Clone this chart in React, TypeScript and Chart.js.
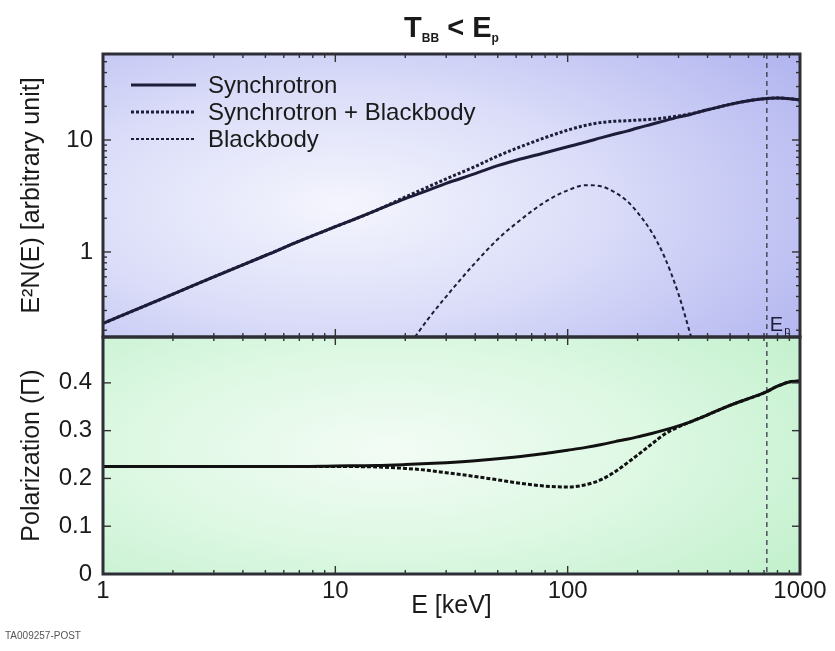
import React, { useEffect, useRef } from "react";
import { Chart, registerables } from "chart.js";

Chart.register(...registerables);

// Photon energy grid (keV)
const energy = [1, 2, 3, 5, 7, 10, 15, 20, 25, 30, 40, 50, 60, 80, 100, 120, 140, 160, 180, 200, 230, 260, 300, 340, 400, 500, 600, 700, 800, 900, 1000];

// E^2 N(E) in arbitrary units
const synchrotronSpectrum = [0.23, 0.42, 0.6, 0.93, 1.25, 1.68, 2.35, 3.0, 3.55, 4.1, 5.0, 5.9, 6.6, 7.7, 8.7, 9.6, 10.5, 11.3, 12.0, 12.8, 13.8, 14.8, 16.0, 17.0, 18.6, 20.8, 22.4, 23.4, 23.7, 23.4, 22.7];
const combinedSpectrum = [0.23, 0.42, 0.6, 0.93, 1.25, 1.68, 2.35, 3.1, 3.8, 4.5, 5.8, 7.2, 8.4, 10.5, 12.25, 13.55, 14.35, 14.7, 14.85, 15.05, 15.3, 15.72, 16.42, 17.17, 18.6, 20.8, 22.4, 23.4, 23.7, 23.4, 22.7];

const blackbodyEnergy = [22, 25, 30, 40, 50, 60, 80, 100, 120, 140, 160, 180, 200, 230, 260, 300, 340];
const blackbodySpectrum = [0.174, 0.25, 0.4, 0.8, 1.3, 1.8, 2.8, 3.55, 3.95, 3.85, 3.4, 2.85, 2.25, 1.5, 0.92, 0.42, 0.174];

// Polarization degree
const synchrotronPolarization = [0.225, 0.225, 0.225, 0.225, 0.225, 0.226, 0.227, 0.229, 0.231, 0.233, 0.237, 0.241, 0.245, 0.252, 0.259, 0.265, 0.271, 0.277, 0.282, 0.287, 0.294, 0.301, 0.31, 0.319, 0.333, 0.353, 0.367, 0.379, 0.393, 0.402, 0.404];
const combinedPolarization = [0.225, 0.225, 0.225, 0.225, 0.225, 0.225, 0.224, 0.221, 0.217, 0.212, 0.204, 0.197, 0.191, 0.184, 0.182, 0.187, 0.198, 0.214, 0.232, 0.249, 0.272, 0.292, 0.308, 0.319, 0.333, 0.353, 0.367, 0.379, 0.393, 0.402, 0.404];

const xTicks = [1, 10, 100, 1000];
const spectrumTicks = [1, 10];
const polarizationTicks = [0, 0.1, 0.2, 0.3, 0.4];
const peakEnergy = 720;

const legendItems = ["Synchrotron", "Synchrotron + Blackbody", "Blackbody"];

const FONT = "'Liberation Sans', Arial, sans-serif";
const NAVY = "#1d1d3a";
const INK = "#1a1a1a";

const pts = (xs: number[], ys: number[]) => xs.map((x, i) => ({ x, y: ys[i] }));

function glow(
  ctx: CanvasRenderingContext2D,
  x0: number, y0: number, x1: number, y1: number,
  cx: number, cy: number, rx: number, ry: number,
  stops: [number, string][]
) {
  ctx.save();
  ctx.beginPath();
  ctx.rect(x0, y0, x1 - x0, y1 - y0);
  ctx.clip();
  ctx.translate(cx, cy);
  ctx.scale(rx / ry, 1);
  const g = ctx.createRadialGradient(0, 0, 0, 0, 0, ry);
  stops.forEach(([o, c]) => g.addColorStop(o, c));
  ctx.fillStyle = g;
  ctx.fillRect(-3000, -3000, 6000, 6000);
  ctx.restore();
}

function seg(ctx: CanvasRenderingContext2D, x0: number, y0: number, x1: number, y1: number) {
  ctx.beginPath();
  ctx.moveTo(x0, y0);
  ctx.lineTo(x1, y1);
  ctx.stroke();
}

const panelPlugin = {
  id: "panels",
  beforeDraw(chart: any) {
    const ctx: CanvasRenderingContext2D = chart.ctx;
    const { left, right } = chart.chartArea;
    const ys = chart.scales.ySpec;
    const yp = chart.scales.yPol;
    ctx.save();
    ctx.fillStyle = "#ffffff";
    ctx.fillRect(0, 0, chart.width, chart.height);
    ctx.restore();
    glow(ctx, left, ys.top, right, ys.bottom, 340, 205, 560, 250, [
      [0, "#f4f5fd"],
      [0.45, "#dcdef9"],
      [1, "#b2b5ef"],
    ]);
    glow(ctx, left, yp.top, right, yp.bottom, 390, 450, 520, 200, [
      [0, "#f3fcf5"],
      [0.5, "#ddf8e3"],
      [1, "#c2f0cc"],
    ]);
  },
  beforeDatasetsDraw(chart: any) {
    const ctx: CanvasRenderingContext2D = chart.ctx;
    const px = chart.scales.x.getPixelForValue(peakEnergy);
    ctx.save();
    ctx.strokeStyle = "#2b2b3b";
    ctx.lineWidth = 1.2;
    ctx.setLineDash([5, 4]);
    seg(ctx, px, chart.scales.ySpec.top, px, chart.scales.yPol.bottom);
    ctx.restore();
  },
  beforeDatasetDraw(chart: any, args: any) {
    const ctx: CanvasRenderingContext2D = chart.ctx;
    const sc = chart.scales[args.meta.yAxisID];
    const { left, right } = chart.chartArea;
    ctx.save();
    ctx.beginPath();
    ctx.rect(left, sc.top, right - left, sc.bottom - sc.top);
    ctx.clip();
  },
  afterDatasetDraw(chart: any) {
    chart.ctx.restore();
  },
  afterDraw(chart: any) {
    const ctx: CanvasRenderingContext2D = chart.ctx;
    const { left, right } = chart.chartArea;
    const xs = chart.scales.x;
    const ys = chart.scales.ySpec;
    const yp = chart.scales.yPol;

    // inward tick marks
    ctx.save();
    ctx.strokeStyle = "#333";
    ctx.lineWidth = 1.4;
    for (const d of [1, 10, 100, 1000]) {
      for (let k = 1; k <= 9; k++) {
        const v = d * k;
        if (v > 1000) break;
        const px = xs.getPixelForValue(v);
        const len = k === 1 ? 8 : 4;
        seg(ctx, px, yp.bottom, px, yp.bottom - len);
        seg(ctx, px, yp.top, px, yp.top + len);
        seg(ctx, px, ys.bottom, px, ys.bottom - len);
        seg(ctx, px, ys.top, px, ys.top + len);
      }
    }
    for (const d of [0.1, 1, 10]) {
      for (let k = 1; k <= 9; k++) {
        const v = d * k;
        if (v < ys.min || v > ys.max) continue;
        const py = ys.getPixelForValue(v);
        const len = k === 1 ? 8 : 4;
        seg(ctx, left, py, left + len, py);
        seg(ctx, right, py, right - len, py);
      }
    }
    for (const v of polarizationTicks) {
      const py = yp.getPixelForValue(v);
      seg(ctx, left, py, left + 8, py);
      seg(ctx, right, py, right - 8, py);
    }
    ctx.restore();

    // panel frames
    ctx.save();
    ctx.strokeStyle = "#2e2e36";
    ctx.lineWidth = 3;
    ctx.strokeRect(left, ys.top, right - left, ys.bottom - ys.top);
    ctx.strokeRect(left, yp.top, right - left, yp.bottom - yp.top);
    ctx.restore();

    // legend
    ctx.save();
    const lx0 = 131;
    const lx1 = 196;
    const rows = [85, 112, 139];
    const styles = [
      { w: 3, dash: [] as number[] },
      { w: 3, dash: [3, 2] },
      { w: 2, dash: [3, 2] },
    ];
    legendItems.forEach((label, i) => {
      ctx.strokeStyle = NAVY;
      ctx.lineWidth = styles[i].w;
      ctx.setLineDash(styles[i].dash);
      seg(ctx, lx0, rows[i], lx1, rows[i]);
      ctx.setLineDash([]);
      ctx.fillStyle = INK;
      ctx.font = `24px ${FONT}`;
      ctx.textBaseline = "middle";
      ctx.textAlign = "left";
      ctx.fillText(label, 208, rows[i] + 1);
    });
    ctx.restore();

    // E_p marker label
    ctx.save();
    const px = xs.getPixelForValue(peakEnergy);
    ctx.fillStyle = NAVY;
    ctx.textBaseline = "alphabetic";
    ctx.textAlign = "left";
    ctx.font = `20px ${FONT}`;
    ctx.fillText("E", px + 3, ys.bottom - 6);
    const ew = ctx.measureText("E").width;
    ctx.font = `11px ${FONT}`;
    ctx.fillText("p", px + 3 + ew + 1, ys.bottom - 3);
    ctx.restore();

    // title: T_BB < E_p
    ctx.save();
    ctx.fillStyle = INK;
    ctx.textBaseline = "alphabetic";
    ctx.textAlign = "left";
    const big = `bold 29px ${FONT}`;
    const small = `bold 12px ${FONT}`;
    const parts: [string, string, number][] = [
      ["T", big, 0],
      ["BB", small, 5],
      [" < ", big, 0],
      ["E", big, 0],
      ["p", small, 5],
    ];
    let total = 0;
    parts.forEach(([t, f]) => {
      ctx.font = f;
      total += ctx.measureText(t).width;
    });
    let x = (left + right) / 2 - total / 2;
    const base = 37;
    parts.forEach(([t, f, dy]) => {
      ctx.font = f;
      ctx.fillText(t, x, base + dy);
      x += ctx.measureText(t).width;
    });
    ctx.restore();

    // figure id
    ctx.save();
    ctx.fillStyle = "#555";
    ctx.font = `10px ${FONT}`;
    ctx.textBaseline = "middle";
    ctx.textAlign = "left";
    ctx.fillText("TA009257-POST", 5, 636);
    ctx.restore();
  },
};

export default function App() {
  const ref = useRef<HTMLCanvasElement>(null);

  useEffect(() => {
    const canvas = ref.current;
    if (!canvas) return;

    const tickFont = { family: FONT, size: 24 };
    const titleFont = { family: FONT, size: 25 };

    const chart = new Chart(canvas, {
      type: "line",
      data: {
        datasets: [
          {
            label: "Blackbody",
            data: pts(blackbodyEnergy, blackbodySpectrum),
            yAxisID: "ySpec",
            borderColor: NAVY,
            borderWidth: 2,
            borderDash: [4, 3],
            pointRadius: 0,
            fill: false,
            cubicInterpolationMode: "monotone",
          },
          {
            label: "Synchrotron + Blackbody",
            data: pts(energy, combinedSpectrum),
            yAxisID: "ySpec",
            borderColor: NAVY,
            borderWidth: 3,
            borderDash: [3, 2],
            pointRadius: 0,
            fill: false,
            cubicInterpolationMode: "monotone",
          },
          {
            label: "Synchrotron",
            data: pts(energy, synchrotronSpectrum),
            yAxisID: "ySpec",
            borderColor: NAVY,
            borderWidth: 3,
            pointRadius: 0,
            fill: false,
            cubicInterpolationMode: "monotone",
          },
          {
            label: "Synchrotron",
            data: pts(energy, synchrotronPolarization),
            yAxisID: "yPol",
            borderColor: "#111",
            borderWidth: 3,
            pointRadius: 0,
            fill: false,
            cubicInterpolationMode: "monotone",
          },
          {
            label: "Synchrotron + Blackbody",
            data: pts(energy, combinedPolarization),
            yAxisID: "yPol",
            borderColor: "#111",
            borderWidth: 3,
            borderDash: [4, 2],
            pointRadius: 0,
            fill: false,
            cubicInterpolationMode: "monotone",
          },
        ],
      },
      options: {
        responsive: false,
        animation: false,
        devicePixelRatio: 1,
        layout: { padding: { left: 0, right: 35, top: 54, bottom: 8 } },
        plugins: {
          legend: { display: false },
          tooltip: { enabled: false },
          title: { display: false },
        },
        scales: {
          x: {
            type: "logarithmic",
            position: "bottom",
            min: 1,
            max: 1000,
            grid: { display: false, drawTicks: false },
            border: { display: false },
            afterBuildTicks: (s: any) => {
              s.ticks = xTicks.map((v) => ({ value: v }));
            },
            afterFit: (s: any) => {
              s.height = 69;
            },
            ticks: {
              font: tickFont,
              color: INK,
              padding: 3,
              maxRotation: 0,
              autoSkip: false,
              callback: (v: any) => String(v),
            },
            title: {
              display: true,
              text: "E [keV]",
              font: titleFont,
              color: INK,
              padding: { top: 0, bottom: 22 },
            },
          },
          yPol: {
            type: "linear",
            position: "left",
            stack: "panels",
            stackWeight: 237,
            min: 0,
            max: 0.496,
            grid: { display: false, drawTicks: false },
            border: { display: false },
            afterBuildTicks: (s: any) => {
              s.ticks = polarizationTicks.map((v) => ({ value: v }));
            },
            afterFit: (s: any) => {
              s.width = 103;
            },
            ticks: {
              font: tickFont,
              color: INK,
              padding: 11,
              callback: (v: any) => String(v),
            },
            title: {
              display: true,
              text: "Polarization (Π)",
              font: titleFont,
              color: INK,
              padding: { top: 17, bottom: 0 },
            },
          },
          ySpec: {
            type: "logarithmic",
            position: "left",
            stack: "panels",
            stackWeight: 283,
            min: 0.174,
            max: 58.6,
            grid: { display: false, drawTicks: false },
            border: { display: false },
            afterBuildTicks: (s: any) => {
              s.ticks = spectrumTicks.map((v) => ({ value: v }));
            },
            afterFit: (s: any) => {
              s.width = 103;
            },
            ticks: {
              font: tickFont,
              color: INK,
              padding: 10,
              callback: (v: any) => String(v),
            },
            title: {
              display: true,
              text: "E²N(E) [arbitrary unit]",
              font: titleFont,
              color: INK,
              padding: { top: 17, bottom: 0 },
            },
          },
        },
      } as any,
      plugins: [panelPlugin],
    });

    return () => chart.destroy();
  }, []);

  return (
    <div style={{ position: "absolute", left: 0, top: 0, width: 835, height: 651, background: "#fff" }}>
      <canvas ref={ref} width={835} height={651} style={{ display: "block" }} />
    </div>
  );
}
